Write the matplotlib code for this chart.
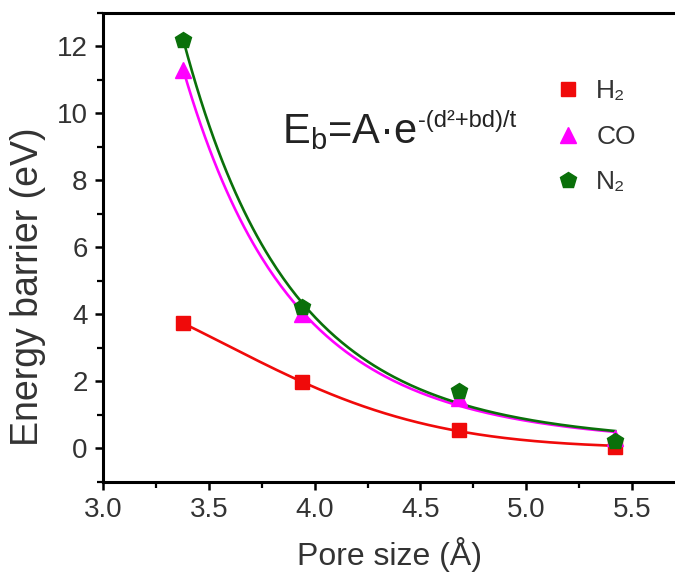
import matplotlib
matplotlib.use("Agg")
import matplotlib.pyplot as plt
from matplotlib.ticker import MultipleLocator, FormatStrFormatter
import numpy as np

plt.rcParams['font.family'] = ['Liberation Sans', 'DejaVu Sans']
plt.rcParams['mathtext.fontset'] = 'custom'
plt.rcParams['mathtext.rm'] = 'Liberation Sans'
plt.rcParams['mathtext.it'] = 'Liberation Sans'

# pore size (Angstrom) and energy barriers (eV)
pore = [3.38, 3.94, 4.68, 5.42]
e_h2 = [3.73, 1.98, 0.53, 0.03]
e_co = [11.3, 4.0, 1.5, 0.3]
e_n2 = [12.2, 4.22, 1.71, 0.21]

series = [
    ("H₂", e_h2, "#f00a0a", "s", 10),
    ("CO", e_co, "#ff00ff", "^", 11),
    ("N₂", e_n2, "#0a700a", "p", 12),
]


def exp_fit(d, e):
    # E = A*exp(-(d^2+bd)/t): log E is quadratic in d, refined by
    # Gauss-Newton least squares on E itself
    d = np.asarray(d, float)
    e = np.asarray(e, float)
    m = d.mean()
    u = d - m
    c = np.polyfit(u, np.log(np.clip(e, 0.02, None)), 2, w=e)
    X = np.vstack([u**2, u, np.ones_like(u)]).T
    for _ in range(200):
        f = np.exp(X @ c)
        J = X * f[:, None]
        step = np.linalg.lstsq(J, e - f, rcond=None)[0]
        c = c + 0.5 * step
    dd = np.linspace(d.min(), d.max(), 200)
    return dd, np.exp(np.polyval(c, dd - m))


fig = plt.figure(figsize=(6.75, 5.74), dpi=100)
ax = fig.add_axes([0.1526, 0.1608, 0.8474, 0.8166])

for label, e, color, mk, ms in series:
    dd, ee = exp_fit(pore, e)
    ax.plot(dd, ee, '-', color=color, lw=1.9)
for label, e, color, mk, ms in series:
    ax.plot(pore, e, ' ', marker=mk, color=color, markersize=ms, label=label)

ax.set_xlim(3.0, 5.703)
ax.set_ylim(-1, 13)
ax.xaxis.set_major_locator(MultipleLocator(0.5))
ax.xaxis.set_minor_locator(MultipleLocator(0.25))
ax.yaxis.set_major_locator(MultipleLocator(2))
ax.yaxis.set_minor_locator(MultipleLocator(1))
ax.xaxis.set_major_formatter(FormatStrFormatter('%.1f'))
ax.tick_params(which='major', direction='out', length=6, width=1.8, labelsize=20,
               colors='black', labelcolor='#333333', pad=5)
ax.tick_params(which='minor', direction='out', length=4, width=1.6)
ax.tick_params(top=False, right=False)
ax.spines['right'].set_visible(False)
for s in ['left', 'bottom', 'top']:
    ax.spines[s].set_linewidth(2.2)

ax.set_xlabel('Pore size (Å)', fontsize=23, color='#333333', labelpad=10)
ax.set_ylabel('Energy barrier (eV)', fontsize=27, color='#333333')
ax.yaxis.set_label_coords(-0.100, 0.416)

# fitting equation: main part plus a smaller exponent
eq = ax.text(3.846, 9.1, r'E$_\mathrm{b}$=A·e', fontsize=30,
             va='baseline', ha='left', color='#222222')
ax.annotate('-(d²+bd)/t', xy=(1, 1), xycoords=eq, xytext=(1, 2),
            textcoords='offset points', fontsize=17, va='top', ha='left',
            color='#222222')

ax.legend(loc='upper left', bbox_to_anchor=(0.805, 0.885),
          bbox_transform=fig.transFigure, frameon=False, fontsize=19,
          handlelength=0.9, handletextpad=0.6, labelspacing=0.82,
          borderpad=0, numpoints=1, labelcolor='#333333')

fig.savefig('out.png', dpi=100)
